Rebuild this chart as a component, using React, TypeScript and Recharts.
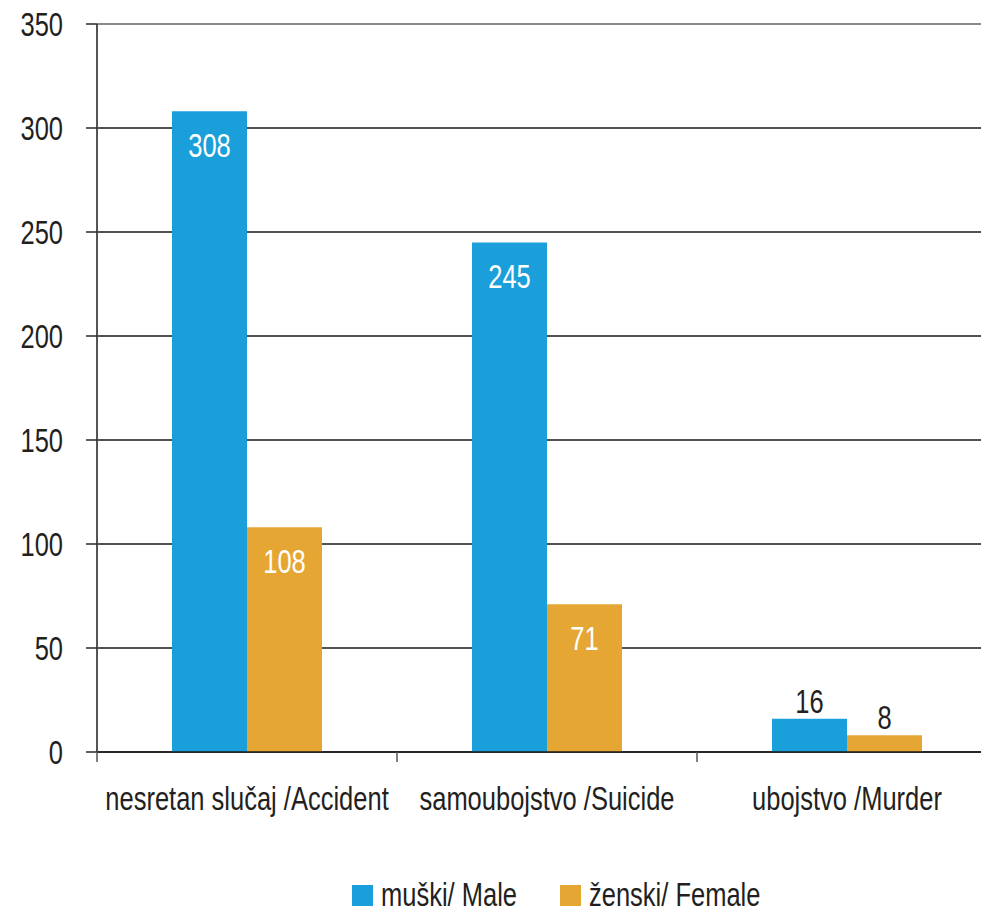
import React from 'react';
import {
  BarChart,
  Bar,
  XAxis,
  YAxis,
  CartesianGrid,
  Legend,
  LabelList,
} from 'recharts';

const categories = ['nesretan slučaj /Accident', 'samoubojstvo /Suicide', 'ubojstvo /Murder'];
const maleValues = [308, 245, 16];
const femaleValues = [108, 71, 8];
const yTicks = [0, 50, 100, 150, 200, 250, 300, 350];
const seriesNames = ['muški/ Male', 'ženski/ Female'];

const BLUE = '#1b9fda';
const ORANGE = '#e6a633';
const TEXT = '#231f20';
const FONT = "'Liberation Sans', Arial, sans-serif";
const FS = 34;
const SQUEEZE = 0.75; // fake a condensed face

const data = categories.map((name, i) => ({
  name,
  male: maleValues[i],
  female: femaleValues[i],
}));

function NarrowText({ x, y, anchor = 'start', fill = TEXT, children }: any) {
  return (
    <text
      transform={`translate(${x},${y}) scale(${SQUEEZE},1)`}
      textAnchor={anchor}
      fill={fill}
      fontSize={FS}
      fontFamily={FONT}
    >
      {children}
    </text>
  );
}

// value labels: white inside tall bars, dark above short ones
function BarValue(props: any) {
  const { x, y, width, height, value } = props;
  const inside = height > 40;
  return (
    <NarrowText x={x + width / 2} y={inside ? y + 46 : y - 6} anchor="middle" fill={inside ? '#fff' : TEXT}>
      {value}
    </NarrowText>
  );
}

// category label at band centre, tick line at band boundary
function CategoryTick(props: any) {
  const { x, y, payload } = props;
  const off = payload?.offset ?? 0;
  return (
    <g>
      <line x1={x - off} x2={x - off} y1={y} y2={y + 10} stroke="#555" strokeWidth={1.5} />
      <NarrowText x={x} y={y + 58} anchor="middle">
        {payload.value}
      </NarrowText>
    </g>
  );
}

function ValueTick(props: any) {
  const { x, y, payload } = props;
  return (
    <NarrowText x={x} y={y + 12} anchor="end">
      {payload.value}
    </NarrowText>
  );
}

function GridLine(props: any) {
  const { x1, x2, y1, y2, y } = props;
  const isTop = Math.abs(y1 - y) < 1;
  return <line x1={x1} x2={x2} y1={y1} y2={y2} stroke={isTop ? '#8a8a8a' : '#1a1a1a'} strokeWidth={isTop ? 2.2 : 1.4} />;
}

function LegendContent() {
  const colors = [BLUE, ORANGE];
  const starts = [352, 560];
  return (
    <svg width={1000} height={40} style={{ display: 'block' }}>
      {seriesNames.map((n, i) => (
        <g key={n}>
          <rect x={starts[i]} y={13} width={21} height={21} fill={colors[i]} />
          <NarrowText x={starts[i] + 29} y={34}>
            {n}
          </NarrowText>
        </g>
      ))}
    </svg>
  );
}

export default function App() {
  return (
    <div style={{ margin: -8, width: 989, height: 914, overflow: 'hidden', background: '#fff' }}>
      <BarChart
        width={1000}
        height={914}
        data={data}
        margin={{ top: 24, right: 3, left: 0, bottom: 62 }}
        barCategoryGap="25%"
        barGap={0}
      >
        <CartesianGrid vertical={false} horizontal={(p: any) => <GridLine {...p} />} />
        <XAxis
          dataKey="name"
          height={60}
          tickSize={0}
          tickMargin={0}
          tickLine={false}
          axisLine={{ stroke: '#1a1a1a', strokeWidth: 1.6 }}
          tick={<CategoryTick />}
          interval={0}
        />
        <YAxis
          width={97}
          domain={[0, 350]}
          ticks={yTicks}
          tickSize={11}
          tickMargin={23}
          tickLine={{ stroke: '#1a1a1a', strokeWidth: 1.4 }}
          axisLine={{ stroke: '#555', strokeWidth: 2 }}
          tick={<ValueTick />}
        />
        <Legend verticalAlign="bottom" height={40} wrapperStyle={{ bottom: 2, left: 0, width: 1000 }} content={<LegendContent />} />
        <Bar dataKey="male" name={seriesNames[0]} fill={BLUE} isAnimationActive={false}>
          <LabelList dataKey="male" content={<BarValue />} />
        </Bar>
        <Bar dataKey="female" name={seriesNames[1]} fill={ORANGE} isAnimationActive={false}>
          <LabelList dataKey="female" content={<BarValue />} />
        </Bar>
      </BarChart>
    </div>
  );
}
